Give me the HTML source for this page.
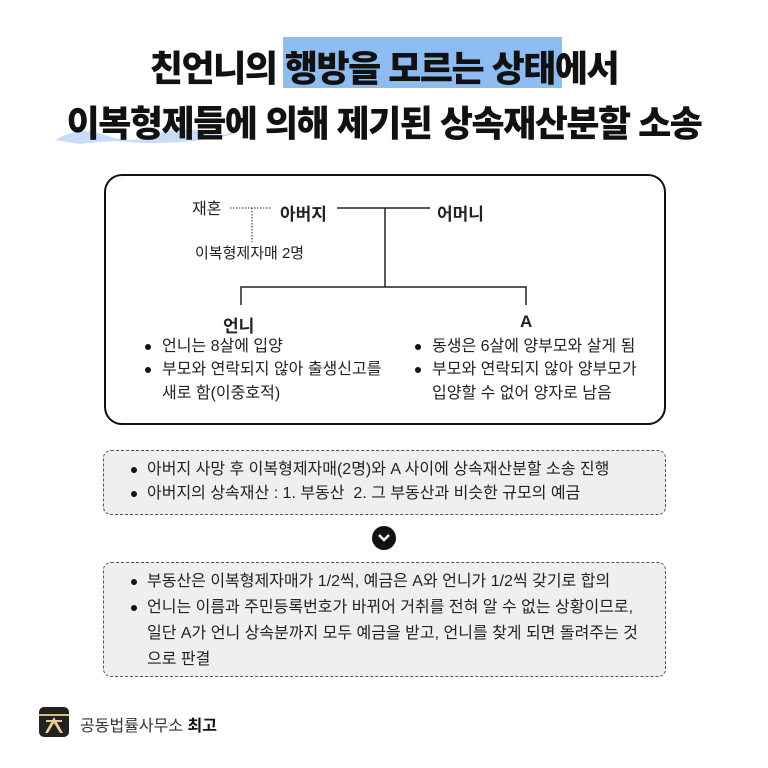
<!DOCTYPE html>
<html><head><meta charset="utf-8"><style>
body{margin:0;width:768px;height:768px;background:#fff;position:relative;overflow:hidden;font-family:"Liberation Sans","Noto Sans CJK KR",sans-serif;color:#222}
.a{position:absolute;white-space:nowrap}
.t{font-size:36px;font-weight:900;color:#111;letter-spacing:-1.5px;left:0;width:768px;text-align:center}
.n{font-size:16px;line-height:16px}
.b{font-weight:700;font-size:17px}
.dot{position:absolute;width:6px;height:6px;border-radius:50%;background:#111}
.box{position:absolute;box-sizing:border-box}
</style></head><body>
<div class="a" style="left:283px;top:37px;width:279px;height:51px;background:#8cbcf0"></div>
<svg class="a" style="left:50px;top:110px" width="190" height="40"><path d="M5 30 Q30 15 55 25 T105 25 T155 22 T185 18 L185 24 Q160 30 130 32 T80 32 T30 34 Z" fill="#c8dcf7"/></svg>
<div class="a t" style="top:40px">친언니의 행방을 모르는 상태에서</div>
<div class="a t" style="top:95px">이복형제들에 의해 제기된 상속재산분할 소송</div>

<div class="box" style="left:104px;top:174px;width:562px;height:251px;border:2px solid #111;border-radius:18px"></div>
<svg class="a" style="left:0;top:0" width="768" height="768">
<line x1="230" y1="208" x2="272" y2="208" stroke="#222" stroke-dasharray="1.5 1.5"/>
<line x1="252" y1="208" x2="252" y2="242" stroke="#222" stroke-dasharray="1.5 1.5"/>
<line x1="337" y1="208" x2="430" y2="208" stroke="#222" stroke-width="1.5"/>
<line x1="385" y1="208" x2="385" y2="287" stroke="#222" stroke-width="1.5"/>
<polyline points="241,305 241,287 526,287 526,305" fill="none" stroke="#222" stroke-width="1.5"/>
<circle cx="384" cy="538" r="12" fill="#111"/>
<polyline points="379,535 384,540 389,535" fill="none" stroke="#fff" stroke-width="2.5"/>
</svg>
<div class="a n" style="left:192px;top:202px;font-size:16px">재혼</div>
<div class="a b" style="left:280px;top:200px">아버지</div>
<div class="a b" style="left:437px;top:200px">어머니</div>
<div class="a n" style="left:195px;top:246px;font-size:15px">이복형제자매 2명</div>
<div class="a b" style="left:223px;top:312px">언니</div>
<div class="a b" style="left:520px;top:312px">A</div>

<div class="dot" style="left:145px;top:344px"></div>
<div class="a n" style="left:162px;top:339px">언니는 8살에 입양</div>
<div class="dot" style="left:145px;top:367px"></div>
<div class="a n" style="left:162px;top:362px">부모와 연락되지 않아 출생신고를</div>
<div class="a n" style="left:162px;top:386px">새로 함(이중호적)</div>
<div class="dot" style="left:415px;top:344px"></div>
<div class="a n" style="left:432px;top:339px">동생은 6살에 양부모와 살게 됨</div>
<div class="dot" style="left:415px;top:367px"></div>
<div class="a n" style="left:432px;top:362px">부모와 연락되지 않아 양부모가</div>
<div class="a n" style="left:432px;top:386px">입양할 수 없어 양자로 남음</div>

<div class="box" style="left:103px;top:450px;width:563px;height:65px;border:1.5px dashed #555;border-radius:8px;background:#efefef"></div>
<div class="dot" style="left:131px;top:467px"></div>
<div class="a n" style="left:147px;top:462px">아버지 사망 후 이복형제자매(2명)와 A 사이에 상속재산분할 소송 진행</div>
<div class="dot" style="left:131px;top:491px"></div>
<div class="a n" style="left:147px;top:486px">아버지의 상속재산 : 1. 부동산&nbsp; 2. 그 부동산과 비슷한 규모의 예금</div>

<div class="box" style="left:103px;top:562px;width:563px;height:115px;border:1.5px dashed #555;border-radius:8px;background:#efefef"></div>
<div class="dot" style="left:131px;top:579px"></div>
<div class="a n" style="left:147px;top:574px">부동산은 이복형제자매가 1/2씩, 예금은 A와 언니가 1/2씩 갖기로 합의</div>
<div class="dot" style="left:131px;top:605px"></div>
<div class="a n" style="left:147px;top:600px">언니는 이름과 주민등록번호가 바뀌어 거취를 전혀 알 수 없는 상황이므로,</div>
<div class="a n" style="left:147px;top:626px">일단 A가 언니 상속분까지 모두 예금을 받고, 언니를 찾게 되면 돌려주는 것</div>
<div class="a n" style="left:147px;top:652px">으로 판결</div>

<svg class="a" style="left:39px;top:707px" width="30" height="30"><rect width="30" height="30" rx="5" fill="#222"/><rect x="0" y="7" width="30" height="2" fill="#d8bf86"/><path d="M15 10 L6 26 L9 26 L15 16 L21 26 L24 26 Z" fill="#e4cc94"/><rect x="7" y="13" width="16" height="2" fill="#e4cc94"/></svg>
<div class="a" style="left:80px;top:712px;font-size:16px;color:#333">공동법률사무소 <b style="color:#111">최고</b></div>
</body></html>
